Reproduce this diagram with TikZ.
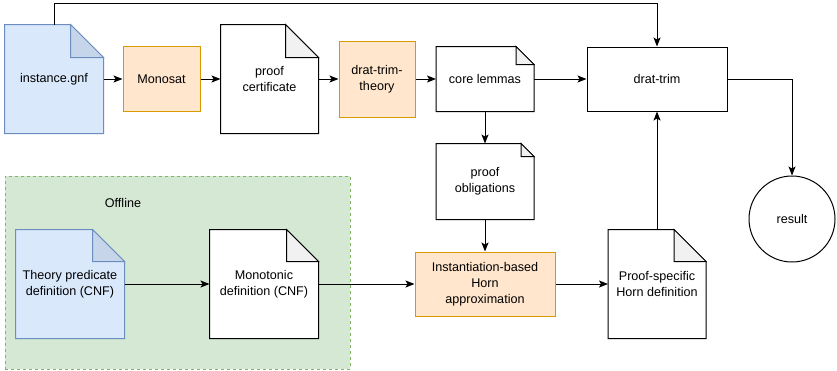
\documentclass[tikz,border=0pt]{standalone}
\usepackage{fontspec}
\setmainfont{Liberation Sans}
\usetikzlibrary{arrows.meta,calc,backgrounds}
\definecolor{bluefill}{HTML}{DAE8FC}
\definecolor{bluedraw}{HTML}{6C8EBF}
\definecolor{bluefold}{HTML}{C6D5EA}
\definecolor{orangefill}{HTML}{FFE6CC}
\definecolor{orangedraw}{HTML}{D79B00}
\definecolor{greenfill}{HTML}{D5E8D4}
\definecolor{greendraw}{HTML}{82B366}
\definecolor{greyfold}{HTML}{F1F1F1}
% outline of a document node with a folded corner: node, fold, fill, stroke, fold fill
\newcommand{\docshape}[5]{%
  \filldraw[fill=#3, draw=#4, line width=1pt] (#1.south west) -- (#1.north west) -- ($(#1.north east)+(-#2,0)$)
        -- ($(#1.north east)+(0,#2)$) -- (#1.south east) -- cycle;
  \filldraw[fill=#5, draw=#4, line width=1pt] ($(#1.north east)+(-#2,0)$) -- ($(#1.north east)+(-#2,#2)$)
        -- ($(#1.north east)+(0,#2)$) -- cycle;}
\begin{document}
\begin{tikzpicture}[x=1pt, y=-1pt, font=\fontsize{12.6}{16}\selectfont, line width=1pt,
      base/.style={align=center, inner sep=0pt},
      proc/.style={base, draw=orangedraw, fill=orangefill},
      doc/.style={base, minimum width=97pt, minimum height=108pt},
      arr/.style={-{Stealth[length=9pt, width=7pt, inset=2pt]}}]
      \useasboundingbox (0,0) rectangle (837,370);
      \node[doc, minimum width=98pt] (inst) at (54,79) {instance.gnf};
      \node[proc, minimum width=77pt, minimum height=65pt] (mono) at (161.5,79) {Monosat};
      \node[doc] (cert) at (269.5,79) {proof\\certificate};
      \node[proc, minimum width=76pt, minimum height=76pt] (dtt) at (377,79) {drat-trim-\\theory};
      \node[doc, minimum height=64pt] (core) at (485,79) {core lemmas};
      \node[base, draw, minimum width=140pt, minimum height=64pt] (drat) at (657,79) {drat-trim};
      \node[doc, minimum height=75pt] (oblig) at (485,181.5) {proof\\obligations};
      \node[proc, minimum width=140pt, minimum height=64pt] (horn) at (485,284) {Instantiation-based\\Horn\\approximation};
      \node[doc] (hdef) at (657,284) {Proof-specific\\Horn definition};
      \node[base, draw, circle, minimum size=86pt] (result) at (792,219) {result};
      \node[doc, minimum width=108pt] (theo) at (70,284) {Theory predicate\\definition (CNF)};
      \node[doc, minimum width=108pt] (mdef) at (264,284) {Monotonic\\definition (CNF)};
      \node (offlab) at (123,203) {Offline};
      \begin{scope}[on background layer]
      \node[base, draw=greendraw, fill=greenfill, line width=1pt, dash pattern=on 3pt off 3pt,
            minimum width=345pt, minimum height=193pt] (offline) at (177.5,272.5) {};
      \docshape{inst}{33}{bluefill}{bluedraw}{bluefold}
      \docshape{theo}{32}{bluefill}{bluedraw}{bluefold}
      \docshape{cert}{33}{white}{black}{greyfold}
      \docshape{core}{18}{white}{black}{greyfold}
      \docshape{oblig}{13}{white}{black}{greyfold}
      \docshape{hdef}{32}{white}{black}{greyfold}
      \docshape{mdef}{32}{white}{black}{greyfold}
      \end{scope}
      \draw[arr] (inst) -- (mono);
      \draw[arr] (mono) -- (cert);
      \draw[arr] (cert) -- (dtt);
      \draw[arr] (dtt) -- (core);
      \draw[arr] (core) -- (drat);
      \draw[arr] (inst.north) -- ++(0,-21) -| (drat.north);
      \draw[arr] (core) -- (oblig);
      \draw[arr] (oblig) -- (horn);
      \draw[arr] (theo) -- (mdef);
      \draw[arr] (mdef) -- (horn);
      \draw[arr] (horn) -- (hdef);
      \draw[arr] (hdef) -- (drat);
      \draw[arr] (drat) -| (result);
\end{tikzpicture}
\end{document}
